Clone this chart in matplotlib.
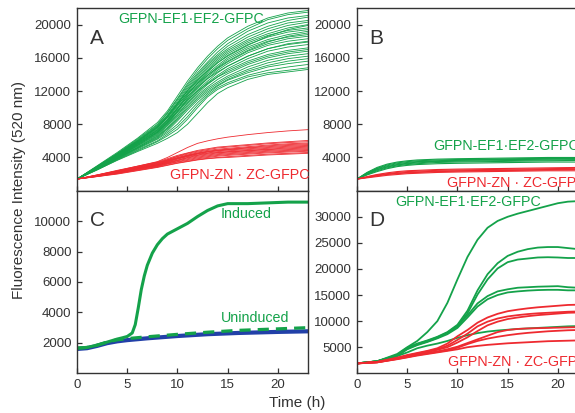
import matplotlib
matplotlib.use("Agg")
import matplotlib.pyplot as plt

plt.rcParams['font.family'] = ['Liberation Sans', 'DejaVu Sans']

# -------------------------------------------------------------------------
# Data (time in h, fluorescence in a.u.)
# -------------------------------------------------------------------------
t_a = [0, 2, 4, 6, 8, 9, 10, 11, 12, 13, 14, 15, 17, 19, 21, 23]

a_green = [
    [1400, 3000, 4600, 6300, 8200, 9600, 11400, 13200, 14800, 16200, 17400, 18400, 19800, 20800, 21400, 21700],
    [1400, 2950, 4500, 6200, 8000, 9400, 11100, 12900, 14500, 15900, 17100, 18100, 19500, 20600, 21200, 21500],
    [1400, 2900, 4450, 6100, 7900, 9300, 11000, 12700, 14200, 15500, 16700, 17700, 19200, 20200, 20800, 21100],
    [1400, 2900, 4400, 6000, 7800, 9100, 10800, 12500, 14000, 15300, 16400, 17400, 18800, 19800, 20500, 20900],
    [1400, 2850, 4350, 5900, 7700, 9000, 10600, 12300, 13800, 15100, 16200, 17100, 18500, 19500, 20200, 20500],
    [1400, 2850, 4300, 5900, 7600, 8900, 10500, 12100, 13600, 14900, 16000, 16900, 18200, 19200, 19900, 20300],
    [1400, 2800, 4300, 5800, 7500, 8800, 10400, 12000, 13400, 14700, 15800, 16700, 18000, 18900, 19600, 20000],
    [1400, 2850, 4400, 6000, 7700, 9000, 10500, 12000, 13300, 14400, 15400, 16200, 17500, 18600, 19400, 19900],
    [1400, 2800, 4250, 5800, 7400, 8600, 10200, 11800, 13200, 14500, 15600, 16500, 17800, 18700, 19300, 19600],
    [1400, 2800, 4200, 5700, 7300, 8500, 10000, 11600, 13000, 14300, 15400, 16300, 17600, 18500, 19100, 19400],
    [1400, 2750, 4200, 5700, 7200, 8400, 9900, 11500, 12900, 14100, 15100, 16000, 17300, 18200, 18800, 19200],
    [1400, 2800, 4300, 5900, 7600, 8800, 10300, 11700, 12900, 13900, 14800, 15600, 16900, 17900, 18600, 19000],
    [1400, 2750, 4150, 5600, 7100, 8300, 9800, 11300, 12700, 13900, 14900, 15800, 17100, 18000, 18500, 18800],
    [1400, 2750, 4100, 5500, 7000, 8200, 9600, 11100, 12500, 13700, 14700, 15500, 16800, 17700, 18300, 18600],
    [1400, 2700, 4100, 5500, 7000, 8100, 9500, 11000, 12300, 13500, 14500, 15300, 16600, 17500, 18000, 18300],
    [1400, 2750, 4200, 5700, 7300, 8500, 9900, 11300, 12500, 13500, 14300, 15000, 16200, 17100, 17700, 18000],
    [1400, 2700, 4050, 5400, 6900, 8000, 9400, 10800, 12100, 13200, 14200, 15000, 16200, 17100, 17600, 17900],
    [1400, 2700, 4000, 5400, 6800, 7900, 9200, 10600, 11900, 13000, 13900, 14700, 15900, 16800, 17300, 17600],
    [1400, 2650, 4000, 5300, 6700, 7800, 9100, 10500, 11700, 12800, 13700, 14500, 15600, 16400, 16900, 17200],
    [1400, 2700, 4100, 5600, 7100, 8200, 9600, 10900, 12000, 12900, 13700, 14300, 15400, 16200, 16700, 17000],
    [1400, 2650, 3950, 5200, 6600, 7600, 8900, 10300, 11500, 12500, 13400, 14100, 15200, 16000, 16500, 16800],
    [1400, 2650, 3900, 5200, 6500, 7500, 8700, 10100, 11300, 12300, 13100, 13800, 14900, 15700, 16200, 16500],
    [1400, 2600, 3900, 5100, 6400, 7400, 8600, 9900, 11100, 12100, 12900, 13600, 14600, 15400, 15900, 16200],
    [1400, 2600, 3850, 5100, 6300, 7200, 8400, 9700, 10900, 11900, 12700, 13400, 14400, 15100, 15600, 15900],
    [1400, 2600, 3800, 5000, 6200, 7000, 8000, 9300, 10600, 11700, 12600, 13300, 14200, 14900, 15300, 15600],
    [1400, 2550, 3750, 4900, 6000, 6800, 7700, 8900, 10300, 11500, 12400, 13000, 13900, 14500, 14900, 15200],
    [1400, 2500, 3700, 4800, 5900, 6600, 7400, 8600, 10000, 11300, 12200, 12800, 13700, 14200, 14500, 14800],
    [1400, 2500, 3650, 4700, 5700, 6300, 7000, 8000, 9300, 10600, 11700, 12400, 13400, 14000, 14300, 14600],
]

a_red = [
    [1400, 1900, 2450, 2950, 3500, 4000, 4600, 5200, 5700, 6000, 6250, 6450, 6750, 7000, 7200, 7350],
    [1400, 1900, 2400, 2950, 3450, 3850, 4250, 4550, 4850, 5050, 5250, 5350, 5550, 5750, 5900, 6050],
    [1400, 1880, 2380, 2900, 3400, 3750, 4150, 4500, 4750, 4950, 5150, 5250, 5450, 5650, 5800, 5900],
    [1400, 1850, 2350, 2850, 3350, 3700, 4100, 4400, 4650, 4850, 5000, 5100, 5300, 5500, 5650, 5750],
    [1400, 1850, 2300, 2800, 3300, 3650, 4000, 4300, 4550, 4750, 4900, 5000, 5200, 5400, 5550, 5650],
    [1400, 1820, 2300, 2800, 3250, 3600, 3950, 4250, 4500, 4700, 4850, 4950, 5150, 5300, 5450, 5550],
    [1400, 1800, 2250, 2750, 3200, 3550, 3900, 4200, 4450, 4650, 4800, 4900, 5050, 5200, 5350, 5450],
    [1400, 1800, 2250, 2700, 3150, 3500, 3850, 4150, 4400, 4550, 4700, 4800, 4950, 5100, 5250, 5350],
    [1400, 1780, 2200, 2700, 3100, 3450, 3800, 4100, 4300, 4500, 4600, 4700, 4850, 5000, 5150, 5250],
    [1400, 1780, 2200, 2650, 3100, 3400, 3700, 4000, 4250, 4400, 4550, 4650, 4800, 4950, 5050, 5150],
    [1400, 1760, 2150, 2600, 3050, 3350, 3650, 3950, 4150, 4300, 4450, 4550, 4700, 4850, 4950, 5050],
    [1400, 1750, 2150, 2600, 3000, 3300, 3600, 3850, 4050, 4200, 4350, 4450, 4600, 4750, 4850, 4950],
    [1400, 1740, 2100, 2550, 2950, 3250, 3500, 3750, 3950, 4100, 4250, 4350, 4500, 4650, 4750, 4850],
    [1400, 1720, 2100, 2500, 2900, 3200, 3450, 3650, 3850, 4000, 4150, 4250, 4400, 4550, 4650, 4750],
    [1400, 1700, 2050, 2450, 2850, 3100, 3350, 3550, 3750, 3900, 4000, 4100, 4250, 4400, 4500, 4600],
    [1400, 1700, 2000, 2400, 2800, 3050, 3300, 3500, 3700, 3850, 3950, 4000, 4150, 4300, 4400, 4500],
]

t_b = [0, 1, 2, 3, 4, 5, 6, 8, 10, 13, 16, 19, 22, 23]

b_green = [
    [1400, 2200, 2800, 3200, 3450, 3600, 3700, 3800, 3850, 3900, 3950, 4000, 4000, 4000],
    [1400, 2150, 2700, 3100, 3350, 3500, 3600, 3700, 3750, 3800, 3850, 3900, 3950, 3950],
    [1400, 2100, 2650, 3000, 3250, 3400, 3500, 3600, 3700, 3750, 3800, 3850, 3900, 3900],
    [1400, 2050, 2550, 2900, 3150, 3300, 3450, 3550, 3650, 3700, 3750, 3800, 3850, 3850],
    [1400, 2000, 2500, 2850, 3100, 3250, 3350, 3500, 3550, 3600, 3650, 3700, 3750, 3750],
    [1400, 1950, 2400, 2750, 3000, 3150, 3250, 3400, 3450, 3500, 3550, 3600, 3650, 3650],
    [1400, 1900, 2300, 2650, 2900, 3050, 3150, 3250, 3300, 3350, 3400, 3450, 3450, 3450],
]

b_red = [
    [1400, 1700, 1950, 2150, 2300, 2400, 2450, 2550, 2600, 2650, 2700, 2750, 2800, 2850],
    [1400, 1650, 1900, 2050, 2200, 2300, 2350, 2450, 2500, 2550, 2600, 2650, 2700, 2750],
    [1400, 1620, 1820, 2000, 2100, 2200, 2250, 2350, 2400, 2450, 2500, 2550, 2600, 2650],
    [1400, 1600, 1780, 1950, 2050, 2150, 2200, 2300, 2350, 2400, 2450, 2500, 2550, 2550],
    [1400, 1550, 1700, 1850, 1950, 2050, 2100, 2200, 2250, 2300, 2350, 2400, 2400, 2450],
]

t_c_ind = [0, 1, 2, 3, 4, 4.5, 5, 5.5, 5.8, 6.1, 6.4, 6.7, 7, 7.5, 8, 8.5, 9, 10, 11, 12, 13, 14, 15, 17, 19, 21, 23]
c_induced = [1650, 1700, 1850, 2050, 2250, 2330, 2420, 2650, 3200, 4300, 5500, 6400, 7100, 7900, 8450,
             8850, 9150, 9500, 9850, 10300, 10700, 11000, 11150, 11150, 11200, 11250, 11250]

t_c = [0, 1, 2, 3, 4, 5, 7, 10, 13, 16, 20, 23]
c_uninduced = [1650, 1700, 1850, 2050, 2200, 2280, 2400, 2560, 2700, 2820, 2920, 3000]
c_blue = [1600, 1650, 1800, 1980, 2100, 2180, 2300, 2450, 2570, 2650, 2720, 2760]

t_d = [0, 2, 4, 5, 6, 7, 8, 9, 10, 11, 12, 13, 14, 15, 16, 17, 18, 19, 20, 21, 22, 23]

d_green = [
    [1900, 2300, 3700, 5000, 6200, 7900, 10000, 13500, 18000, 22300, 25600, 27900, 29200, 30000, 30600, 31100, 31600, 32100, 32600, 32900, 33000, 33100],
    [1900, 2300, 3500, 4900, 5700, 6300, 7000, 7900, 9300, 12000, 15900, 19000, 21100, 22500, 23300, 23800, 24100, 24200, 24200, 24000, 23800, 23700],
    [1900, 2300, 3400, 4700, 5500, 6100, 6800, 7700, 9000, 11500, 15100, 18000, 20100, 21300, 21800, 22000, 22200, 22250, 22200, 22100, 22100, 22000],
    [1900, 2300, 3400, 4800, 5600, 6200, 6900, 7800, 9100, 11100, 13400, 14800, 15700, 16100, 16400, 16500, 16600, 16650, 16700, 16500, 16400, 16400],
    [1900, 2300, 3300, 4600, 5400, 6000, 6700, 7500, 8700, 10700, 12800, 14200, 15000, 15500, 15700, 15850, 15950, 16000, 16000, 15900, 15900, 15900],
    [1900, 2300, 3300, 4000, 4800, 5300, 5700, 6200, 6800, 7300, 7700, 8000, 8200, 8350, 8500, 8600, 8700, 8800, 8900, 9000, 9050, 9100],
]

d_red = [
    [1900, 2200, 3000, 3500, 3900, 4300, 4800, 5700, 7100, 8300, 9700, 10700, 11400, 11900, 12200, 12450, 12650, 12800, 12950, 13100, 13150, 13200],
    [1900, 2150, 2900, 3400, 3800, 4200, 4600, 5300, 6400, 7600, 9000, 9900, 10500, 10900, 11150, 11350, 11500, 11600, 11700, 11800, 11850, 11900],
    [1900, 2150, 2850, 3300, 3700, 4100, 4500, 5000, 5900, 6900, 8100, 9200, 9900, 10400, 10700, 10950, 11150, 11300, 11450, 11600, 11650, 11700],
    [1900, 2100, 2800, 3200, 3600, 3900, 4200, 4600, 5100, 5800, 6500, 7200, 7900, 8300, 8500, 8600, 8650, 8700, 8750, 8800, 8850, 8900],
    [1900, 2100, 2750, 3100, 3500, 3800, 4100, 4400, 4900, 5600, 6200, 6650, 7000, 7300, 7550, 7750, 7900, 8050, 8150, 8250, 8300, 8350],
    [1900, 2100, 2700, 3050, 3400, 3700, 4000, 4300, 4600, 5000, 5250, 5450, 5600, 5750, 5850, 5950, 6050, 6150, 6200, 6250, 6300, 6300],
]

GREEN = '#14a24a'
RED = '#ee2a30'
BLUE = '#2240a8'
GREY = '#333333'

# -------------------------------------------------------------------------
# Figure and axes (B and D run past the right edge, as in the original)
# -------------------------------------------------------------------------
fig = plt.figure(figsize=(5.75, 4.13), dpi=100)
W, H = 575.0, 413.0

def make_ax(left, top, bottom, ylim, yticks, xlabels):
    ax = fig.add_axes([left / W, (H - bottom) / H, 231 / W, (bottom - top) / H])
    ax.set_xlim(0, 23)
    ax.set_ylim(*ylim)
    ax.set_xticks([0, 5, 10, 15, 20])
    ax.set_yticks(yticks)
    if not xlabels:
        ax.set_xticklabels([])
    ax.tick_params(direction='in', length=3.5, width=0.9, colors=GREY,
                   labelsize=9.5, pad=4)
    for s in ax.spines.values():
        s.set_color(GREY)
        s.set_linewidth(1.0)
    return ax

ax_a = make_ax(77, 8, 190.7, (0, 22000), [4000, 8000, 12000, 16000, 20000], False)
ax_b = make_ax(357, 8, 190.7, (0, 22000), [4000, 8000, 12000, 16000, 20000], False)
ax_c = make_ax(77, 190.7, 373.3, (0, 12000), [2000, 4000, 6000, 8000, 10000], True)
ax_d = make_ax(357, 190.7, 373.3, (0, 35000), [5000, 10000, 15000, 20000, 25000, 30000], True)

# panel A
for y in a_green:
    ax_a.plot(t_a, y, color=GREEN, lw=0.6)
for y in a_red:
    ax_a.plot(t_a, y, color=RED, lw=0.6)

# panel B
for y in b_green:
    ax_b.plot(t_b, y, color=GREEN, lw=0.8)
for y in b_red:
    ax_b.plot(t_b, y, color=RED, lw=0.8)

# panel C
ax_c.plot(t_c, c_blue, color=BLUE, lw=3.0, solid_capstyle='butt')
ax_c.plot(t_c, c_uninduced, color=GREEN, lw=2.3, dashes=(3.5, 2.2))
ax_c.plot(t_c_ind, c_induced, color=GREEN, lw=2.2)

# panel D
for y in d_green:
    ax_d.plot(t_d, y, color=GREEN, lw=1.3)
for y in d_red:
    ax_d.plot(t_d, y, color=RED, lw=1.3)

# -------------------------------------------------------------------------
# Labels
# -------------------------------------------------------------------------
for ax, letter in [(ax_a, 'A'), (ax_b, 'B'), (ax_c, 'C'), (ax_d, 'D')]:
    ax.text(0.055, 0.805, letter, transform=ax.transAxes, fontsize=15,
            color=GREY, va='baseline', ha='left')

lbl_green = 'GFPN-EF1\u00b7EF2-GFPC'
lbl_red = 'GFPN-ZN \u00b7 ZC-GFPC'
fs = 10.3

ax_a.text(0.177, 0.94, lbl_green, transform=ax_a.transAxes, color=GREEN, fontsize=fs, va='center')
ax_a.text(0.403, 0.086, lbl_red, transform=ax_a.transAxes, color=RED, fontsize=fs, va='center')
ax_b.text(0.329, 0.245, lbl_green, transform=ax_b.transAxes, color=GREEN, fontsize=fs, va='center')
ax_b.text(0.39, 0.042, lbl_red, transform=ax_b.transAxes, color=RED, fontsize=fs, va='center')
ax_c.text(0.623, 0.872, 'Induced', transform=ax_c.transAxes, color=GREEN, fontsize=fs, va='center')
ax_c.text(0.623, 0.303, 'Uninduced', transform=ax_c.transAxes, color=GREEN, fontsize=fs, va='center')
ax_d.text(0.165, 0.938, lbl_green, transform=ax_d.transAxes, color=GREEN, fontsize=fs, va='center')
ax_d.text(0.394, 0.062, lbl_red, transform=ax_d.transAxes, color=RED, fontsize=fs, va='center')

fig.text(19 / W, (H - 190) / H, 'Fluorescence Intensity (520 nm)', rotation=90,
         fontsize=11, color=GREY, ha='center', va='center')
fig.text(297 / W, (H - 403) / H, 'Time (h)', fontsize=11, color=GREY,
         ha='center', va='center')

fig.savefig('out.png', dpi=100)
